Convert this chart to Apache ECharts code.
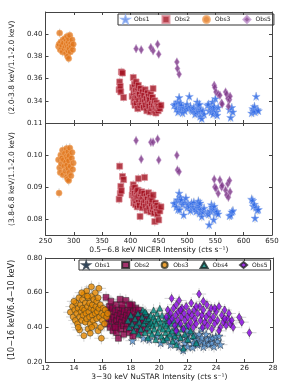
<!DOCTYPE html>
<html><head><meta charset="utf-8">
<script src="https://cdn.jsdelivr.net/npm/echarts@6/dist/echarts.min.js"></script>
<style>html,body{margin:0;padding:0;background:#fff}#c{width:287px;height:386px}</style>
</head><body><div id="c"></div>
<script>
// ---------- NICER (top two panels) ----------
const obs1NicerX = [477,479,481,483,484,486,487,488,489,490,492,494,496,498,500,502,504,506,508,510,512,514,516,518,519,520,521,522,523,524,526,528,530,536,538,539,541,543,544,545,546,547,548,550,552,553,555,575,577,579,581,614,616,617,619,620,622,624,626];
const obs1Hr1 = [0.336,0.337,0.333,0.339,0.330,0.343,0.335,0.338,0.332,0.336,0.329,0.334,0.331,0.334,0.337,0.333,0.344,0.335,0.332,0.331,0.334,0.328,0.330,0.339,0.333,0.336,0.330,0.337,0.326,0.332,0.324,0.331,0.328,0.336,0.337,0.331,0.334,0.330,0.333,0.339,0.328,0.332,0.335,0.342,0.330,0.327,0.334,0.332,0.325,0.334,0.330,0.329,0.333,0.331,0.335,0.330,0.344,0.332,0.331];
const obs1Hr2 = [0.0848,0.0850,0.0838,0.0860,0.0830,0.0881,0.0829,0.0868,0.0855,0.0860,0.0845,0.0813,0.0852,0.0866,0.0836,0.0846,0.0840,0.0826,0.0850,0.0838,0.0852,0.0831,0.0824,0.0846,0.0835,0.0856,0.0842,0.0818,0.0850,0.0829,0.0808,0.0822,0.0834,0.0818,0.0815,0.0782,0.0825,0.0845,0.0838,0.0831,0.0829,0.0798,0.0840,0.0822,0.0820,0.0824,0.0816,0.0810,0.0813,0.0822,0.0826,0.0862,0.0858,0.0840,0.0846,0.0803,0.0836,0.0828,0.0830];

const obs2NicerX = [380,381,382,383,384,386,388,403,404,405,406,406,407,408,408,409,410,410,411,412,412,413,414,414,415,416,417,418,419,420,421,422,423,424,425,426,427,428,429,430,431,432,433,434,435,436,437,438,439,440,441,442,443,444,445,446,447,448,449,450,452,454];
const obs2Hr1 = [0.350,0.357,0.353,0.348,0.366,0.365,0.343,0.344,0.352,0.361,0.347,0.339,0.355,0.342,0.336,0.349,0.345,0.357,0.338,0.350,0.343,0.333,0.347,0.354,0.340,0.346,0.336,0.351,0.343,0.338,0.348,0.341,0.334,0.345,0.339,0.350,0.336,0.342,0.331,0.347,0.338,0.344,0.335,0.341,0.330,0.346,0.337,0.333,0.343,0.351,0.336,0.331,0.340,0.334,0.329,0.338,0.333,0.336,0.331,0.335,0.333,0.336];
const obs2Hr2 = [0.0862,0.0965,0.0880,0.0902,0.0888,0.0933,0.0923,0.0875,0.0892,0.0907,0.0868,0.0850,0.0880,0.0862,0.0898,0.0845,0.0873,0.0857,0.0885,0.0838,0.0866,0.0890,0.0926,0.0852,0.0872,0.0843,0.0808,0.0878,0.0860,0.0885,0.0835,0.0868,0.0850,0.0880,0.0930,0.0858,0.0840,0.0872,0.0826,0.0862,0.0848,0.0882,0.0834,0.0855,0.0868,0.0822,0.0846,0.0860,0.0830,0.0875,0.0838,0.0818,0.0792,0.0850,0.0836,0.0826,0.0842,0.0815,0.0832,0.0797,0.0825,0.0838];

const obs3NicerX = [273,274,275,276,277,278,279,280,281,282,283,284,285,286,287,287,288,288,289,289,290,290,291,291,292,292,293,294,295,296,297,298,299];
const obs3Hr1 = [0.389,0.391,0.401,0.386,0.393,0.388,0.390,0.384,0.395,0.392,0.387,0.396,0.389,0.383,0.394,0.391,0.386,0.398,0.389,0.380,0.393,0.385,0.396,0.378,0.390,0.387,0.399,0.384,0.392,0.389,0.395,0.386,0.391];
const obs3Hr2 = [0.0985,0.0881,0.0960,0.0945,0.1000,0.0972,0.0990,0.1015,0.0938,0.0985,0.0965,0.1005,0.0950,0.0978,0.0995,0.1020,0.0932,0.0968,0.0990,0.0925,0.1010,0.0958,0.0982,0.0920,0.0998,0.0945,0.1022,0.0965,0.0935,0.0990,0.1008,0.0955,0.0975];

const obs5NicerX = [410,419,436,440,448,450,482,483,486,548,549,551,555,558,561,562,568,570,572,573,575,576];
const obs5Hr1 = [0.387,0.386,0.388,0.385,0.391,0.382,0.375,0.369,0.364,0.354,0.352,0.348,0.346,0.345,0.338,0.337,0.348,0.346,0.342,0.335,0.341,0.344];
const obs5Hr2 = [0.1045,0.0987,0.104,0.104,0.105,0.0984,0.0999,0.0953,0.0948,0.0924,0.090,0.0896,0.088,0.0922,0.090,0.0905,0.089,0.0875,0.091,0.0868,0.092,0.0885];

const hr1Err = 0.004, hr2Err = 0.0015;

// tick values
const nicerTicks = [250,300,350,400,450,500,550,600,650];
const hr1Ticks = [0.34,0.36,0.38,0.40];
const hr2Ticks = [0.08,0.09,0.10,0.11];
const nustarTicks = [12,14,16,18,20,22,24,26,28];
const hr3Ticks = [0.20,0.40,0.60,0.80];

// ---------- NuSTAR (bottom panel) [intensity, ratio] ----------
const obs1Nustar = [[18.12,0.323],[18.88,0.337],[19.3,0.33],[19.8,0.35],[20.1,0.31],[20.5,0.33],[20.8,0.30],[21.0,0.35],[21.2,0.32],[21.4,0.29],[21.5,0.34],[21.68,0.269],[21.8,0.31],[21.9,0.35],[22.0,0.29],[22.1,0.33],[22.2,0.37],[22.34,0.285],[22.4,0.31],[22.5,0.35],[22.6,0.33],[22.7,0.30],[22.8,0.36],[22.9,0.32],[23.0,0.34],[23.1,0.288],[23.2,0.31],[23.3,0.36],[23.4,0.33],[23.5,0.30],[23.6,0.34],[23.7,0.31],[23.76,0.337],[23.85,0.29],[23.98,0.346],[24.1,0.32],[24.2,0.35],[24.3,0.30],[22.0,0.38],[23.0,0.39]];
const obs2Nustar = [[16.26,0.573],[16.3,0.47],[16.35,0.42],[16.4,0.50],[16.45,0.45],[16.5,0.52],[16.55,0.40],[16.6,0.48],[16.65,0.44],[16.7,0.51],[16.75,0.38],[16.8,0.46],[16.85,0.42],[16.9,0.49],[16.95,0.53],[17.0,0.44],[17.0,0.37],[17.05,0.47],[17.1,0.41],[17.13,0.337],[17.15,0.50],[17.2,0.45],[17.25,0.562],[17.3,0.39],[17.3,0.48],[17.35,0.43],[17.4,0.51],[17.45,0.46],[17.5,0.36],[17.5,0.41],[17.55,0.49],[17.6,0.44],[17.65,0.555],[17.7,0.47],[17.7,0.39],[17.75,0.42],[17.8,0.50],[17.85,0.45],[17.9,0.37],[17.95,0.48],[18.0,0.43],[18.0,0.52],[18.05,0.40],[18.1,0.46],[18.15,0.35],[18.2,0.49],[18.25,0.42],[18.3,0.45],[18.35,0.51],[18.4,0.39],[18.45,0.47],[18.5,0.43],[18.55,0.50],[18.6,0.37],[18.65,0.45],[18.7,0.41],[18.8,0.48],[18.9,0.44],[19.0,0.39],[19.1,0.46],[19.2,0.42],[16.9,0.40],[17.4,0.53],[18.1,0.53],[16.6,0.55],[17.9,0.53]];
const obs3Nustar = [[13.75,0.487],[13.9,0.52],[13.95,0.46],[14.05,0.50],[14.1,0.44],[14.15,0.54],[14.2,0.48],[14.25,0.42],[14.3,0.51],[14.35,0.57],[14.4,0.46],[14.4,0.385],[14.45,0.53],[14.5,0.49],[14.55,0.44],[14.6,0.56],[14.6,0.51],[14.65,0.47],[14.7,0.352],[14.7,0.59],[14.75,0.50],[14.8,0.43],[14.8,0.54],[14.85,0.48],[14.9,0.61],[14.9,0.45],[14.95,0.52],[15.0,0.39],[15.0,0.57],[15.05,0.49],[15.1,0.46],[15.1,0.54],[15.15,0.42],[15.15,0.366],[15.2,0.51],[15.23,0.634],[15.25,0.58],[15.3,0.47],[15.3,0.53],[15.35,0.44],[15.4,0.50],[15.4,0.56],[15.45,0.41],[15.5,0.48],[15.5,0.60],[15.55,0.52],[15.6,0.45],[15.6,0.55],[15.65,0.49],[15.7,0.38],[15.76,0.625],[15.75,0.51],[15.8,0.46],[15.85,0.53],[15.89,0.40],[15.93,0.337],[15.95,0.48],[16.0,0.44],[16.05,0.51],[16.1,0.47],[16.15,0.42],[16.2,0.50],[16.3,0.46],[16.37,0.48],[14.3,0.40],[14.55,0.60],[15.25,0.40],[14.95,0.58],[15.7,0.57],[14.0,0.55]];
const obs4Nustar = [[17.8,0.44],[17.9,0.40],[18.0,0.47],[18.1,0.42],[18.2,0.38],[18.3,0.45],[18.4,0.41],[18.5,0.48],[18.55,0.36],[18.6,0.43],[18.7,0.39],[18.8,0.46],[18.85,0.50],[18.9,0.42],[19.0,0.37],[19.05,0.44],[19.1,0.48],[19.15,0.40],[19.2,0.34],[19.25,0.45],[19.3,0.42],[19.35,0.38],[19.4,0.47],[19.45,0.43],[19.5,0.36],[19.55,0.41],[19.6,0.46],[19.65,0.39],[19.7,0.44],[19.75,0.33],[19.8,0.42],[19.85,0.48],[19.9,0.37],[19.95,0.45],[20.04,0.51],[20.05,0.40],[20.1,0.43],[20.15,0.35],[20.2,0.47],[20.25,0.39],[20.3,0.327],[20.35,0.42],[20.4,0.45],[20.45,0.37],[20.5,0.41],[20.55,0.34],[20.6,0.44],[20.65,0.39],[20.7,0.47],[20.75,0.36],[20.8,0.42],[20.9,0.38],[20.95,0.32],[21.0,0.44],[21.1,0.35],[21.15,0.40],[21.2,0.30],[21.3,0.37],[21.4,0.42],[21.5,0.34],[21.6,0.39],[21.7,0.28],[21.8,0.36],[21.9,0.41],[22.0,0.33],[22.2,0.38],[22.4,0.35],[22.6,0.31],[19.0,0.49],[19.6,0.50]];
const obs5Nustar = [[20.5,0.46],[20.6,0.50],[20.7,0.43],[20.8,0.48],[20.87,0.567],[20.9,0.45],[21.0,0.51],[21.1,0.41],[21.15,0.47],[21.2,0.53],[21.3,0.44],[21.35,0.49],[21.4,0.555],[21.5,0.42],[21.55,0.46],[21.6,0.51],[21.7,0.39],[21.75,0.48],[21.8,0.44],[21.9,0.52],[22.0,0.46],[22.05,0.41],[22.1,0.49],[22.2,0.43],[22.25,0.54],[22.3,0.47],[22.4,0.40],[22.45,0.50],[22.5,0.45],[22.6,0.42],[22.7,0.48],[22.8,0.592],[22.85,0.52],[22.9,0.44],[23.0,0.47],[23.05,0.40],[23.1,0.50],[23.2,0.43],[23.3,0.46],[23.35,0.53],[23.4,0.41],[23.5,0.48],[23.6,0.44],[23.65,0.51],[23.7,0.39],[23.8,0.46],[23.9,0.42],[24.0,0.49],[24.1,0.44],[24.2,0.52],[24.3,0.40],[24.4,0.47],[24.5,0.43],[24.6,0.50],[24.7,0.41],[24.8,0.45],[24.9,0.48],[25.0,0.42],[25.1,0.44],[25.2,0.40],[25.62,0.458],[25.8,0.43],[26.34,0.369],[21.2,0.38],[22.6,0.52],[23.9,0.51],[24.2,0.38],[21.5,0.50],[23.1,0.55],[24.6,0.45]];
const nustarErrX = 0.5, nustarErrY = 0.035;

// ---------- axis text ----------
const hr1Title = '(2.0-3.8 keV/1.1-2.0 keV)';
const hr2Title = '(3.8-6.8 keV/1.1-2.0 keV)';
const nicerTitle = '0.5\u22126.8 keV NICER Intensity (cts s\u207B\u00B9)';
const hr3Title = '(10\u221216 keV/6.4\u221210 keV)';
const nustarTitle = '3\u221230 keV NuSTAR Intensity (cts s\u207B\u00B9)';
const legendNames = ['Obs1','Obs2','Obs3','Obs4','Obs5'];

// ---------- build ----------
const STAR = 'path://M50,0L61.8,35.1L98.8,35.1L68.9,56.7L80.3,91.9L50,70.2L19.7,91.9L31.1,56.7L1.2,35.1L38.2,35.1Z';
const FONT = 'DejaVu Sans';
const zip = (xs, ys) => xs.map((x, i) => [x, ys[i]]);

function errSeries(points, ex, ey, xi, yi) {
  return {
    type: 'custom', xAxisIndex: xi, yAxisIndex: yi, z: 1, silent: true, clip: true,
    encode: {x: 0, y: 1},
    data: points.map(p => [p[0], p[1]]),
    renderItem(params, api) {
      const x = api.value(0), y = api.value(1);
      const st = {stroke: 'rgba(175,175,175,0.55)', lineWidth: 1};
      const ch = [];
      if (ey) { const a = api.coord([x, y - ey]), b = api.coord([x, y + ey]);
        ch.push({type: 'line', shape: {x1: a[0], y1: a[1], x2: b[0], y2: b[1]}, style: st}); }
      if (ex) { const a = api.coord([x - ex, y]), b = api.coord([x + ex, y]);
        ch.push({type: 'line', shape: {x1: a[0], y1: a[1], x2: b[0], y2: b[1]}, style: st}); }
      return {type: 'group', children: ch};
    }
  };
}

const topStyles = {
  Obs1: {symbol: STAR, symbolSize: 8, itemStyle: {color: '#2a66e6', borderColor: '#86a8f0', borderWidth: 0.6}},
  Obs2: {symbol: 'rect', symbolSize: 6, itemStyle: {color: '#a3101f', borderColor: '#dc8a96', borderWidth: 0.8}},
  Obs3: {symbol: 'circle', symbolSize: 6, itemStyle: {color: '#e0741a', borderColor: '#f2aa6a', borderWidth: 0.8}},
  Obs5: {symbol: 'diamond', symbolSize: [5, 8], itemStyle: {color: '#7f3a8a', borderColor: '#c39ad0', borderWidth: 0.6}}
};
const botStyles = {
  Obs1: {symbol: STAR, symbolSize: 8, itemStyle: {color: '#5b9ad8', borderColor: '#1d2a3a', borderWidth: 0.6}},
  Obs2: {symbol: 'rect', symbolSize: 6, itemStyle: {color: '#8c0048', borderColor: '#222', borderWidth: 0.6}},
  Obs3: {symbol: 'circle', symbolSize: 6, itemStyle: {color: '#e88a00', borderColor: '#332', borderWidth: 0.6}},
  Obs4: {symbol: 'triangle', symbolSize: 6, itemStyle: {color: '#00897e', borderColor: '#122', borderWidth: 0.6}},
  Obs5: {symbol: 'diamond', symbolSize: [5, 8], itemStyle: {color: '#8a00e6', borderColor: '#222', borderWidth: 0.6}}
};

const nicerSets = [
  ['Obs1', obs1NicerX, obs1Hr1, obs1Hr2],
  ['Obs2', obs2NicerX, obs2Hr1, obs2Hr2],
  ['Obs3', obs3NicerX, obs3Hr1, obs3Hr2],
  ['Obs5', obs5NicerX, obs5Hr1, obs5Hr2]
];
const nustarSets = [
  ['Obs1', obs1Nustar], ['Obs2', obs2Nustar], ['Obs3', obs3Nustar], ['Obs4', obs4Nustar], ['Obs5', obs5Nustar]
];

const series = [];
const all1 = [], all2 = [], all3 = [];
nicerSets.forEach(([n, xs, a, b]) => { all1.push(...zip(xs, a)); all2.push(...zip(xs, b)); });
nustarSets.forEach(([n, pts]) => all3.push(...pts));
series.push(errSeries(all1, 0, hr1Err, 0, 0));
series.push(errSeries(all2, 0, hr2Err, 2, 2));
series.push(errSeries(all3, nustarErrX, nustarErrY, 4, 4));
nicerSets.forEach(([n, xs, a, b]) => {
  series.push(Object.assign({type: 'scatter', name: n, xAxisIndex: 0, yAxisIndex: 0, z: 2, data: zip(xs, a)}, topStyles[n]));
  series.push(Object.assign({type: 'scatter', name: n, xAxisIndex: 2, yAxisIndex: 2, z: 2, data: zip(xs, b)}, topStyles[n]));
});
nustarSets.forEach(([n, pts], i) => {
  series.push(Object.assign({type: 'scatter', name: n + ' NuSTAR', xAxisIndex: 4, yAxisIndex: 4, z: 2 + i * 0.1, data: pts}, botStyles[n]));
});

const lineC = '#444';
function axis(opts, ticks, labels) {
  return Object.assign({
    type: 'value', scale: false,
    axisLine: {show: true, onZero: false, lineStyle: {color: lineC, width: 1}},
    axisTick: {show: true, inside: true, length: 3, lineStyle: {color: lineC}, customValues: ticks},
    splitLine: {show: false},
    axisLabel: labels ? Object.assign({show: true, fontFamily: FONT, fontSize: 7, color: '#222', margin: 3, customValues: ticks}, labels)
                      : {show: false},
    nameTextStyle: {fontFamily: FONT, fontSize: 7.5, color: '#222'}
  }, opts);
}

const xAxis = [
  axis({gridIndex: 0, position: 'bottom', min: 250, max: 650}, nicerTicks),
  axis({gridIndex: 0, position: 'top', min: 250, max: 650}, nicerTicks),
  axis({gridIndex: 1, position: 'bottom', min: 250, max: 650,
    name: nicerTitle, nameLocation: 'middle', nameGap: 11}, nicerTicks, {}),
  axis({gridIndex: 1, position: 'top', min: 250, max: 650}, nicerTicks),
  axis({gridIndex: 2, position: 'bottom', min: 12, max: 28,
    name: nustarTitle, nameLocation: 'middle', nameGap: 11}, nustarTicks, {}),
  axis({gridIndex: 2, position: 'top', min: 12, max: 28}, nustarTicks)
];
const yAxis = [
  axis({gridIndex: 0, position: 'left', min: 0.32, max: 0.42,
    name: hr1Title, nameLocation: 'middle', nameGap: 19}, hr1Ticks, {formatter: v => v.toFixed(2)}),
  axis({gridIndex: 0, position: 'right', min: 0.32, max: 0.42}, hr1Ticks),
  axis({gridIndex: 1, position: 'left', min: 0.075, max: 0.11,
    name: hr2Title, nameLocation: 'middle', nameGap: 19}, hr2Ticks, {formatter: v => v.toFixed(2)}),
  axis({gridIndex: 1, position: 'right', min: 0.075, max: 0.11}, hr2Ticks),
  axis({gridIndex: 2, position: 'left', min: 0.2, max: 0.8,
    name: hr3Title, nameLocation: 'middle', nameGap: 19, nameTextStyle: {fontFamily: FONT, fontSize: 8, color: '#222'}},
    hr3Ticks, {formatter: v => v.toFixed(2)}),
  axis({gridIndex: 2, position: 'right', min: 0.2, max: 0.8}, hr3Ticks)
];

const legendBase = {
  orient: 'horizontal', selectedMode: false, borderColor: '#333', borderWidth: 1, borderRadius: 0,
  itemWidth: 7, itemHeight: 7, textStyle: {fontFamily: FONT, fontSize: 6, color: '#222'}
};

const option = {
  animation: false,
  backgroundColor: '#fff',
  grid: [
    {left: 29, top: 12, width: 243, height: 111},
    {left: 29, top: 123, width: 243, height: 112},
    {left: 29, top: 258, width: 244, height: 104}
  ],
  xAxis, yAxis,
  legend: [
    Object.assign({}, legendBase, {left: 118, top: 14, width: 160, padding: [1, 3, 1, 3], itemGap: 12,
      data: ['Obs1', 'Obs2', 'Obs3', 'Obs5']}),
    Object.assign({}, legendBase, {left: 79, top: 260, width: 200, padding: [1, 3, 1, 3], itemGap: 11, itemHeight: 6,
      data: legendNames.map(n => n + ' NuSTAR'), formatter: n => n.split(' ')[0]})
  ],
  series
};

const chart = echarts.init(document.getElementById('c'));
chart.setOption(option);
</script></body></html>
